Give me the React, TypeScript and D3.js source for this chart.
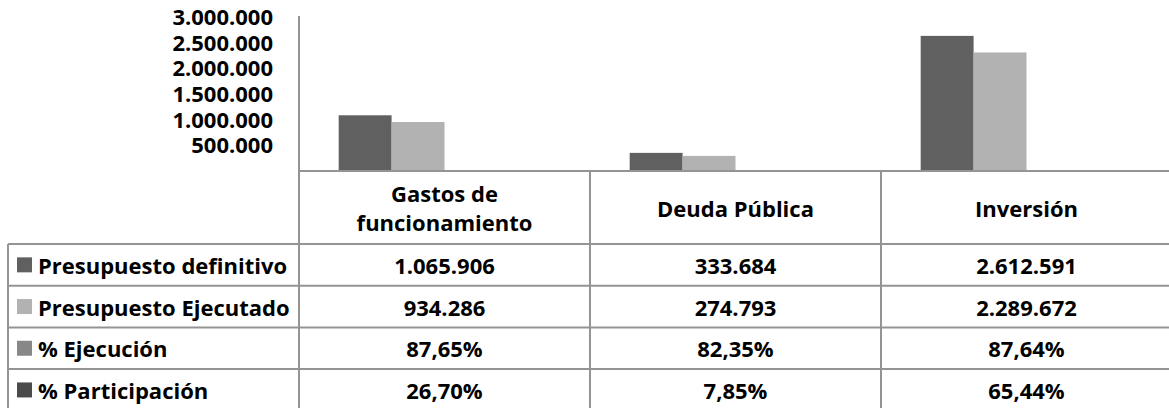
import React, { useEffect } from 'react'
import * as d3 from 'd3'

const categories = ['Gastos de funcionamiento', 'Deuda Pública', 'Inversión']
const headerLines = [['Gastos de', 'funcionamiento'], ['Deuda Pública'], ['Inversión']]

const seriesNames = [
  'Presupuesto definitivo',
  'Presupuesto Ejecutado',
  '% Ejecución',
  '% Participación',
]
const presupuestoDefinitivo = [1065906, 333684, 2612591]
const presupuestoEjecutado = [934286, 274793, 2289672]
const pctEjecucion = [87.65, 82.35, 87.64]
const pctParticipacion = [26.7, 7.85, 65.44]
const seriesColors = ['#606060', '#b2b2b2', '#878787', '#4b4b4b']

const yTicks = [500000, 1000000, 1500000, 2000000, 2500000, 3000000]

const W = 1169
const H = 408
const FONT = '"Open Sans", Lato, sans-serif'
const FS = 22

const locale = d3.formatLocale({
  decimal: ',',
  thousands: '.',
  grouping: [3],
  currency: ['$', ''],
})
const fmtInt = locale.format(',d')
const fmtPct = (v: number) => locale.format(',.2f')(v) + '%'

export default function App() {
  useEffect(() => {
    document.body.style.margin = '0'
    document.body.style.overflow = 'hidden'
  }, [])

  const plotLeft = 299
  const colStep = 291
  const baseY = 170
  const topY = 16

  const x0 = d3
    .scaleBand<string>()
    .domain(categories)
    .range([plotLeft, plotLeft + colStep * categories.length])
    .padding(0)
  const x1 = d3
    .scaleBand<string>()
    .domain(seriesNames)
    .range([0, x0.bandwidth()])
    .paddingInner(0)
    .paddingOuter(0.75)
  const y = d3.scaleLinear().domain([0, 3000000]).range([baseY, topY])

  // the percent rows sit in the chart too, as fractions (bars are ~0 tall)
  const barValues = [
    presupuestoDefinitivo,
    presupuestoEjecutado,
    pctEjecucion.map((v) => v / 100),
    pctParticipacion.map((v) => v / 100),
  ]
  const tableRows = [
    presupuestoDefinitivo.map(fmtInt),
    presupuestoEjecutado.map(fmtInt),
    pctEjecucion.map(fmtPct),
    pctParticipacion.map(fmtPct),
  ]

  const tableTop = 171
  const headerH = 73
  const rowH = 41.7
  const tableLeft = 8
  const rowY = (i: number) => tableTop + headerH + i * rowH
  const lineColor = '#949494'

  return (
    <svg width={W} height={H} style={{ display: 'block', background: '#fff' }}>
      {/* y tick labels */}
      <g fontFamily={FONT} fontWeight={700} fontSize={FS} fill="#000">
        {yTicks.map((t) => (
          <text key={t} x={273} y={y(t)} textAnchor="end" dominantBaseline="central">
            {fmtInt(t)}
          </text>
        ))}
      </g>

      {/* bars */}
      {categories.map((c, ci) => (
        <g key={c} transform={`translate(${x0(c)},0)`}>
          {seriesNames.map((s, si) => {
            const v = barValues[si][ci]
            return (
              <rect
                key={s}
                x={x1(s)}
                y={y(v)}
                width={x1.bandwidth()}
                height={baseY - y(v)}
                fill={seriesColors[si]}
              />
            )
          })}
        </g>
      ))}

      {/* axis + table lines */}
      <g stroke={lineColor} strokeWidth={2} fill="none">
        <line x1={plotLeft} x2={plotLeft} y1={topY} y2={H} />
        <line x1={plotLeft} x2={W} y1={tableTop} y2={tableTop} />
        {seriesNames.map((s, i) => (
          <line key={s} x1={tableLeft} x2={W} y1={rowY(i)} y2={rowY(i)} />
        ))}
        <line x1={tableLeft} x2={W} y1={rowY(4)} y2={rowY(4)} />
        <line x1={tableLeft} x2={tableLeft} y1={rowY(0)} y2={H} />
        {categories.slice(1).map((c) => (
          <line key={c} x1={x0(c)} x2={x0(c)} y1={tableTop} y2={H} />
        ))}
      </g>

      {/* header cells */}
      <g fontFamily={FONT} fontWeight={700} fontSize={FS} fill="#000" textAnchor="middle">
        {categories.map((c, ci) => {
          const cx = (x0(c) as number) + x0.bandwidth() / 2
          const cy = tableTop + headerH / 2
          const lines = headerLines[ci]
          const lh = 29
          return (
            <g key={c}>
              {lines.map((l, li) => (
                <text
                  key={l}
                  x={cx}
                  y={cy + (li - (lines.length - 1) / 2) * lh}
                  dominantBaseline="central"
                >
                  {l}
                </text>
              ))}
            </g>
          )
        })}
      </g>

      {/* table rows */}
      <g fontFamily={FONT} fontWeight={700} fontSize={FS} fill="#000">
        {seriesNames.map((s, si) => {
          const cy = rowY(si) + rowH / 2
          return (
            <g key={s}>
              <rect x={17} y={cy - 7.5} width={15} height={15} fill={seriesColors[si]} />
              <text x={38} y={cy} dominantBaseline="central">
                {s}
              </text>
              {categories.map((c, ci) => (
                <text
                  key={c}
                  x={(x0(c) as number) + x0.bandwidth() / 2}
                  y={cy}
                  textAnchor="middle"
                  dominantBaseline="central"
                >
                  {tableRows[si][ci]}
                </text>
              ))}
            </g>
          )
        })}
      </g>
    </svg>
  )
}
